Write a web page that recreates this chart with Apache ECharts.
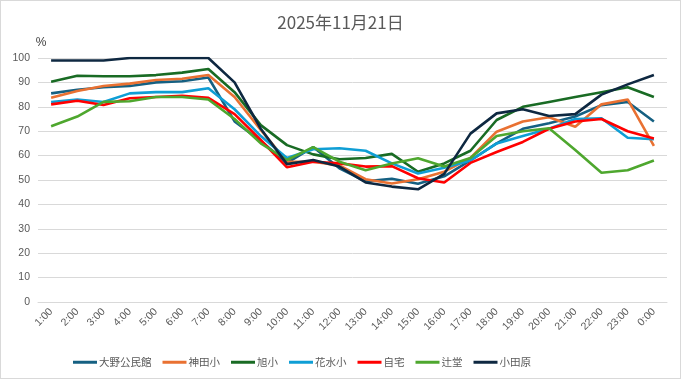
<!DOCTYPE html>
<html>
<head>
<meta charset="utf-8">
<script src="https://cdn.jsdelivr.net/npm/echarts@6/dist/echarts.min.js"></script>
<style>
html,body{margin:0;padding:0;background:#fff;}
#c{width:679px;height:377px;border:1px solid #d9d9d9;}
</style>
</head>
<body>
<div id="c"></div>
<script>
const hours = ['1:00','2:00','3:00','4:00','5:00','6:00','7:00','8:00','9:00','10:00','11:00','12:00','13:00','14:00','15:00','16:00','17:00','18:00','19:00','20:00','21:00','22:00','23:00','0:00'];
const oono   = [85.5,87,88,88.5,90,90.5,92,74,66,57,63.5,54.8,49.5,50.5,48.5,51.5,58,65,71,73.3,76,80.7,82,74];
const kanda  = [83.7,86.5,88.5,89.5,91,91.5,93,84,70.5,57.5,57.5,56,50.3,48.6,50.3,53.4,59,69.8,74,75.7,71.8,81,83,64];
const asahi  = [90.3,92.7,92.5,92.5,93,94,95.5,86,72.5,64.3,60.5,58.5,59,60.7,53.4,56.8,62,74.6,80,82,84,86,88,84];
const hanami = [82,83,82,85.5,86,86,87.6,79,68,59,62.6,63,62,56.8,52.7,55,58,65,68,71,75,75.3,67.3,66.7];
const jitaku = [81,82.5,80.7,83.5,84,84.5,83.7,77,66.4,55.2,57.5,56.8,55.5,55.7,50.7,49,57,61.5,65.6,71,74,75,70,67];
const tsuji  = [72,76,82,82.3,84,84,83,75,65,58.2,63.5,57.5,54,56.8,58.9,55.5,59,68,70,71.2,62.3,53,54,58];
const odawara= [99,99,99,100,100,100,100,90,71,56.5,58.2,55.5,49,47.3,46.2,52.5,69,77.3,79,76.2,77,85,89.2,93];

const names = ['大野公民館','神田小','旭小','花水小','自宅','辻堂','小田原'];
const datas = [oono,kanda,asahi,hanami,jitaku,tsuji,odawara];
const colors = ['#156082','#E97132','#196B24','#0F9ED5','#FF0000','#4EA72E','#0E2841'];
const yTicks = [0,10,20,30,40,50,60,70,80,90,100];

const chart = echarts.init(document.getElementById('c'), null, {renderer:'canvas'});
chart.setOption({
  animation:false,
  title:{text:'2025年11月21日',left:'center',top:8,textStyle:{fontFamily:'Noto Sans CJK JP',fontSize:17,fontWeight:'normal',color:'#595959'}},
  grid:{left:37,right:13,top:57,bottom:76,containLabel:false},
  legend:{left:67,top:351,icon:'rect',itemWidth:24,itemHeight:3,itemGap:11,
    textStyle:{fontFamily:'Noto Sans CJK JP',fontSize:10.5,color:'#595959',padding:[0,0,0,-3]},
    data:names},
  xAxis:{type:'category',data:hours,boundaryGap:true,
    axisLine:{show:true,lineStyle:{color:'#d9d9d9'}},axisTick:{show:false},
    axisLabel:{rotate:45,fontSize:10.5,color:'#595959',fontFamily:'Liberation Sans',interval:0,margin:8}},
  yAxis:{type:'value',min:yTicks[0],max:yTicks[yTicks.length-1],interval:10,
    name:'%',nameLocation:'end',nameGap:9,nameTextStyle:{fontSize:12,color:'#404040',fontFamily:'Liberation Sans',padding:[0,0,0,6]},
    axisLine:{show:false},axisTick:{show:false},
    axisLabel:{fontSize:10.5,color:'#595959',fontFamily:'Liberation Sans',margin:8},
    splitLine:{lineStyle:{color:'#d9d9d9',width:1}}},
  series: names.map((n,i)=>({name:n,type:'line',data:datas[i],symbol:'none',smooth:false,
    lineStyle:{width:2.6,color:colors[i]},itemStyle:{color:colors[i]}}))
});
</script>
</body>
</html>
